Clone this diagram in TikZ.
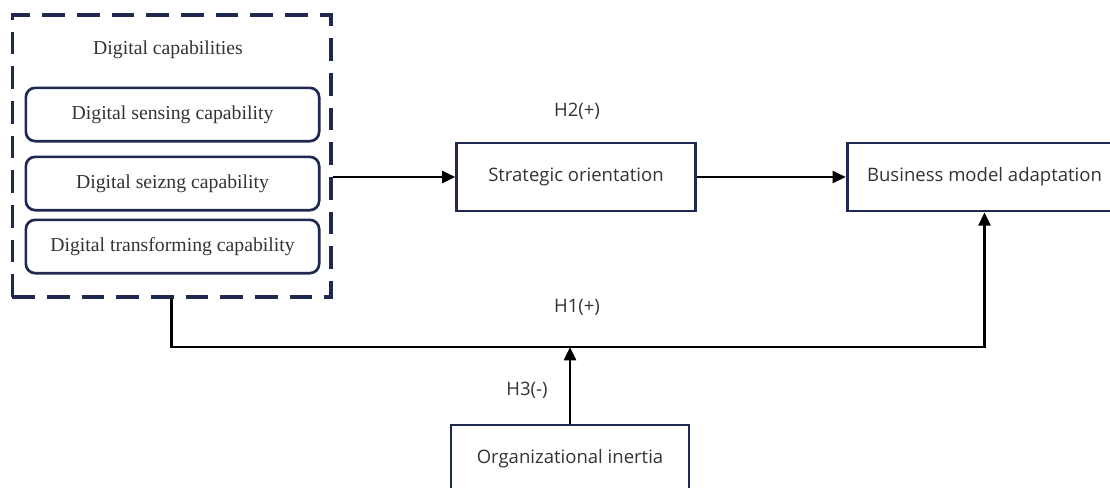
\documentclass[tikz,border=0pt]{standalone}
\usepackage{fontspec}
\setmainfont{Liberation Serif}
\newfontfamily\hypfont{Open Sans}
\usetikzlibrary{arrows.meta}
\definecolor{navy}{HTML}{1E2850}

\begin{document}
\begin{tikzpicture}
[
    x=0.75pt, y=-0.75pt,
    capbox/.style={draw=navy, line width=2pt, rounded corners=7pt, inner sep=0pt,
        minimum width=220pt, minimum height=40pt, font=\fontsize{14.8}{17}\selectfont, text=black!80},
    varbox/.style={draw=navy, line width=2pt, inner sep=0pt, minimum height=51pt,
        font=\hypfont\fontsize{13.9}{16}\selectfont, text=black!80},
    hyp/.style={font=\hypfont\fontsize{13.9}{16}\selectfont, text=black!80},
    link/.style={line width=2pt, -{Triangle[length=10pt, width=9pt]}},
]
\clip (0,0) rectangle (1110,487);
\node [draw=navy, line width=2.5pt, dash pattern=on 17pt off 9pt, minimum width=239pt,
    minimum height=211.5pt] (caps) at (171.5,156) {};
\node [font=\fontsize{14.8}{17}\selectfont, text=black!80] (capstitle) at (168,50) {Digital capabilities};
\node [capbox] (sensing) at (172.5,114.5) {Digital sensing capability};
\node [capbox] (seizing) at (172.5,183.5) {Digital seizng capability};
\node [capbox] (transforming) at (172.5,246.5) {Digital transforming capability};
\node [varbox, minimum width=179pt] (strat) at (576,177) {Strategic orientation};
\node [varbox, minimum width=206pt] (bma) at (984.5,177) {Business model adaptation};
\node [varbox, minimum width=178.5pt] (inert) at (570,459) {Organizational inertia};
\node [hyp] (h2) at (577,111) {H2(+)};
\node [hyp] (h1) at (577,307) {H1(+)};
\node [hyp] (h3) at (527,390) {H3(-)};
\coordinate (junc) at (570,347);
\draw [link] (strat.west -| caps.east) -- (strat.west);
\draw [link] (strat) -- (bma);
\draw [link] (caps.south) |- (junc) -| (bma.south);
\draw [link] (inert) -- (junc);
\end{tikzpicture}
\end{document}
